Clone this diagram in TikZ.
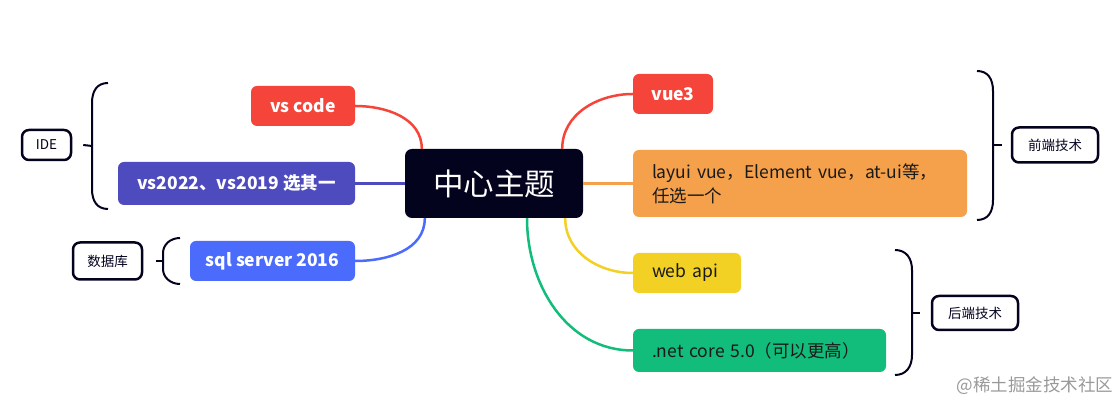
\documentclass[tikz,border=0pt]{standalone}
\usepackage{fontspec}
\setmainfont{Noto Sans CJK SC}
\usetikzlibrary{calc}
\definecolor{navy}{HTML}{03031E}
\definecolor{cred}{HTML}{F5453B}
\definecolor{cpurple}{HTML}{4E4BBF}
\definecolor{cblue}{HTML}{4A6BFB}
\definecolor{corange}{HTML}{F5A04A}
\definecolor{cyellow}{HTML}{F2D024}
\definecolor{cgreen}{HTML}{12BC7B}
\definecolor{ctext}{HTML}{1A1A1A}

\begin{document}
\begin{tikzpicture}
[x=1pt,y=1pt,
leaf/.style={rounded corners=6pt, inner sep=0pt, align=center, font=\fontsize{17.5}{24}\selectfont},
wleaf/.style={leaf, text=white, font=\fontsize{17.5}{24}\selectfont\bfseries},
dleaf/.style={leaf, text=ctext, align=left},
tag/.style={draw=navy, line width=2.5pt, rounded corners=7pt, fill=white, inner sep=0pt, text=navy, font=\fontsize{13.5}{16}\selectfont},
link/.style={line width=2.5pt},
brace/.style={draw=navy, line width=2pt}]
\useasboundingbox (0,0) rectangle (1120,403);

% center topic
\node[fill=navy, text=white, rounded corners=7pt, minimum width=178pt, minimum height=69pt, font=\fontsize{30.5}{34}\selectfont] (n0) at (494,219.5) {中心主题};

% left side
\node[wleaf, fill=cred, minimum width=104pt, minimum height=40pt] (n1) at (303,297) {vs code};
\node[wleaf, fill=cpurple, minimum width=237pt, minimum height=43pt] (n2) at (236.5,219.5) {vs2022、vs2019 选其一};
\node[wleaf, fill=cblue, minimum width=165pt, minimum height=40pt] (n3) at (272.5,142) {sql server 2016};

% right side
\node[wleaf, fill=cred, minimum width=80pt, minimum height=40pt] (n4) at (673,309) {vue3};
\node[dleaf, fill=corange, minimum width=334pt, minimum height=67pt, text width=296pt] (n5) at (800,219.5) {layui vue，Element vue，at-ui等，\\任选一个};
\node[dleaf, fill=cyellow, minimum width=108pt, minimum height=40pt, text width=70pt] (n6) at (687,130) {web api};
\node[dleaf, fill=cgreen, minimum width=253pt, minimum height=43pt, text width=215pt] (n7) at (759.5,52.5) {.net core 5.0（可以更高）};

% summary tags
\node[tag, minimum width=49pt, minimum height=30pt] (L1) at (46.5,258) {IDE};
\node[tag, minimum width=69pt, minimum height=37pt] (L2) at (107.5,142) {数据库};
\node[tag, minimum width=86pt, minimum height=35pt] (L3) at (1055,258) {前端技术};
\node[tag, minimum width=86pt, minimum height=34pt] (L4) at (975,90) {后端技术};

% connectors
\draw[link, cred] ($(n0.north west)+(17,0)$) to[out=90, in=0] (n1.east);
\draw[link, cpurple] (n0.west) -- (n2.east);
\draw[link, cblue] ($(n0.south west)+(20,0)$) to[out=-90, in=0] (n3.east);
\draw[link, cred] ($(n0.north east)+(-21,0)$) to[out=90, in=180] (n4.west);
\draw[link, corange] (n0.east) -- (n5.west);
\draw[link, cyellow] ($(n0.south east)+(-18,0)$) to[out=-90, in=180] (n6.west);
\draw[link, cgreen] ($(n0.south)+(33,0)$) to[out=-90, in=180] (n7.west);

% brackets
\draw[brace] (108,320) .. controls (97,320) and (92,312) .. (92,300) -- (92,214) .. controls (92,202) and (97,194) .. (108,194);
\coordinate (b1) at (92,257);
\draw[brace] (b1) -- ($(L1.east)+(11,0)$);

\draw[brace] (180,165) .. controls (170,165) and (163,158) .. (163,150) -- (163,134) .. controls (163,126) and (170,119) .. (180,119);
\coordinate (b2) at (163,142);
\draw[brace] (b2) -- ($(L2.east)+(13,0)$);

\draw[brace] (977,332) .. controls (988,332) and (993,324) .. (993,312) -- (993,203) .. controls (993,191) and (988,183) .. (977,183);
\coordinate (b3) at (993,258);
\draw[brace] (b3) -- ($(L3.west)+(-9,0)$);

\draw[brace] (895,153) .. controls (906,153) and (912,145) .. (912,133) -- (912,48) .. controls (912,36) and (906,28) .. (895,28);
\coordinate (b4) at (912,90);
\draw[brace] (b4) -- ($(L4.west)+(-11,0)$);

% watermark
\node[text=black!40, font=\fontsize{17.5}{19}\selectfont] (wm) at (1035,17) {@稀土掘金技术社区};
\end{tikzpicture}
\end{document}
